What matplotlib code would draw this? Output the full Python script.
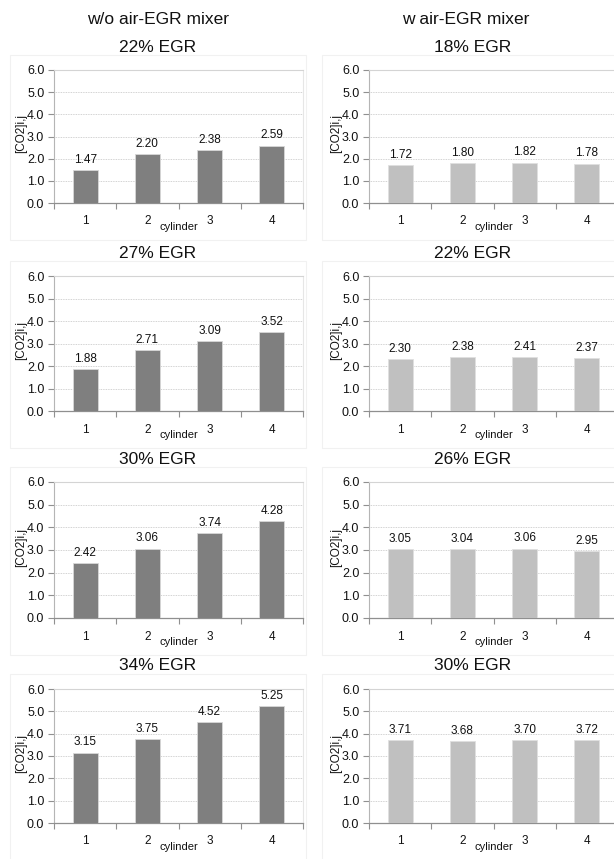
import matplotlib
matplotlib.use("Agg")
import matplotlib.pyplot as plt
from matplotlib.patches import Rectangle

plt.rcParams['font.family'] = ['Liberation Sans', 'DejaVu Sans']

cylinders = [1, 2, 3, 4]
col_headers = ["w/o air-EGR mixer", "w air-EGR mixer"]
egr_left = ["22% EGR", "27% EGR", "30% EGR", "34% EGR"]
egr_right = ["18% EGR", "22% EGR", "26% EGR", "30% EGR"]

left_22 = [1.47, 2.20, 2.38, 2.59]
left_27 = [1.88, 2.71, 3.09, 3.52]
left_30 = [2.42, 3.06, 3.74, 4.28]
left_34 = [3.15, 3.75, 4.52, 5.25]

right_18 = [1.72, 1.80, 1.82, 1.78]
right_22 = [2.30, 2.38, 2.41, 2.37]
right_26 = [3.05, 3.04, 3.06, 2.95]
right_30 = [3.71, 3.68, 3.70, 3.72]

left_data = [left_22, left_27, left_30, left_34]
right_data = [right_18, right_22, right_26, right_30]

y_ticks = [0, 1, 2, 3, 4, 5, 6]
y_label = "[CO2]i,j"
x_label = "cylinder"

W, H = 614, 859
fig = plt.figure(figsize=(W / 100, H / 100), dpi=100)
fig.patch.set_facecolor('white')

tops = [70, 276, 482, 689]
bottoms = [203, 411, 618, 823]
col_x0 = [54, 369]
col_w = 249
col_colors = ['#7f7f7f', '#c0c0c0']
title_cx = [158, 470]
chart_area_x = [(10, 306), (322, 640)]


def px2fig(x, y):
    return x / W, 1 - y / H


for c, (data_col, titles) in enumerate([(left_data, egr_left), (right_data, egr_right)]):
    fx, fy = px2fig(title_cx[c] - (0 if c == 0 else 4), 20)
    fig.text(fx, fy, col_headers[c], ha='center', va='center', fontsize=12.5, color='#111111')
    for r in range(4):
        top, bot = tops[r], bottoms[r]
        ax0, ax1 = chart_area_x[c]
        rx, ry = px2fig(ax0, bot + 37)
        fig.patches.append(Rectangle((rx, ry), (ax1 - ax0) / W, (bot + 37 - (top - 15)) / H,
                                     transform=fig.transFigure, fill=False,
                                     edgecolor='#f1f1f1', linewidth=0.8, zorder=0))
        left, bottom = col_x0[c] / W, 1 - bot / H
        ax = fig.add_axes([left, bottom, col_w / W, (bot - top) / H])
        vals = data_col[r]
        bars = ax.bar(cylinders, vals, width=0.4, color=col_colors[c],
                      edgecolor='#d8d8d8' if c == 0 else '#e0e0e0', linewidth=0.6, zorder=3)
        for b, v in zip(bars, vals):
            ax.annotate(f"{v:.2f}", (b.get_x() + b.get_width() / 2, v),
                        xytext=(0, 3), textcoords='offset points',
                        ha='center', va='bottom', fontsize=8.5, color='#111111')
        ax.set_xlim(0.5, 4.5)
        ax.set_ylim(0, 6)
        ax.set_yticks(y_ticks)
        ax.set_yticklabels([f"{t:.1f}" for t in y_ticks])
        ax.set_xticks(cylinders)
        ax.set_xticklabels([str(x) for x in cylinders])
        ax.set_xticks([0.5, 1.5, 2.5, 3.5, 4.5], minor=True)
        ax.tick_params(axis='x', which='major', length=0, pad=9, labelsize=8.5, labelcolor='#111111')
        ax.tick_params(axis='x', which='minor', length=4, width=0.8, color='#909090', direction='out')
        ax.tick_params(axis='y', which='major', length=4, width=0.8, color='#909090',
                       pad=3, labelsize=9, labelcolor='#111111')
        for yv in [1, 2, 3, 4, 5]:
            ax.axhline(yv, color='#c4c4c4', linewidth=0.6, linestyle=(0, (1, 1)), zorder=1)
        ax.spines['top'].set_color('#d4d4d4')
        ax.spines['top'].set_linewidth(0.8)
        ax.spines['right'].set_color('#e6e6e6')
        ax.spines['right'].set_linewidth(0.8)
        ax.spines['left'].set_color('#b5b5b5')
        ax.spines['left'].set_linewidth(0.8)
        ax.spines['bottom'].set_color('#8f8f8f')
        ax.spines['bottom'].set_linewidth(0.9)
        ax.set_facecolor('white')
        ax.text(-33 / col_w, 0.52, y_label, rotation=90, ha='center', va='center',
                transform=ax.transAxes, fontsize=8.5, color='#111111')
        ax.annotate(x_label, (2.5, 0), xycoords=('data', 'axes fraction'),
                    xytext=(0, -17), textcoords='offset points',
                    ha='center', va='center', fontsize=8, color='#111111')
        fx, fy = px2fig(title_cx[c] + (0 if c == 0 else 3), top - 23)
        fig.text(fx, fy, titles[r], ha='center', va='center', fontsize=12.5, color='#111111')

fig.savefig("out.png", dpi=100, facecolor='white')
